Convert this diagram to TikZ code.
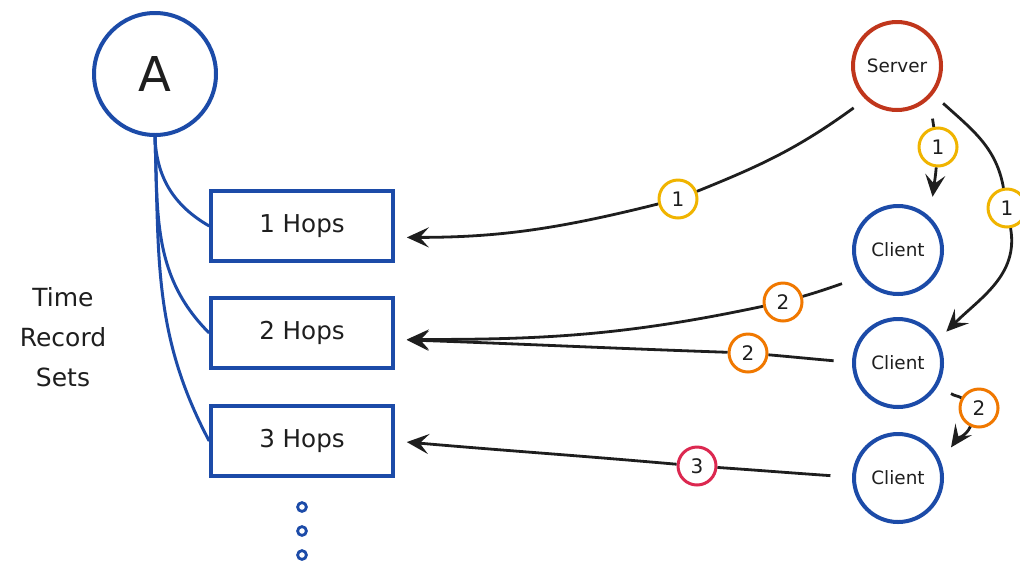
\documentclass[tikz,border=0pt]{standalone}
\usepackage{fontspec}
\setmainfont{DejaVu Sans}
\usetikzlibrary{arrows.meta,calc}
\definecolor{pen}{HTML}{1E1E1E}
\definecolor{bluepen}{HTML}{1C4BA8}
\definecolor{redpen}{HTML}{C0361C}
\definecolor{hopone}{HTML}{F0B400}
\definecolor{hoptwo}{HTML}{F07800}
\definecolor{hopthree}{HTML}{DC2850}

\begin{document}
\begin{tikzpicture}[x=0.5pt,y=0.5pt,
  peer/.style={circle,draw=bluepen,line width=2pt,minimum size=44pt,inner sep=0pt,
    text=pen,font=\fontsize{9.2}{11}\selectfont},
  hopbox/.style={draw=bluepen,line width=1.8pt,minimum width=91pt,minimum height=35pt,
    text=pen,font=\fontsize{12.3}{14}\selectfont},
  tag/.style={circle,draw=#1,fill=white,line width=1.5pt,minimum size=19pt,inner sep=0pt,
    text=pen,font=\fontsize{10}{12}\selectfont},
  flow/.style={pen,line width=1.4pt,-{Stealth[length=11pt,width=10pt,inset=4.5pt]}},
  branch/.style={bluepen,line width=1.5pt}]
\useasboundingbox (0,0) rectangle (1020,-563);

% record side
\node[peer,minimum size=61pt,font=\fontsize{24}{26}\selectfont] (a) at (155,-74) {A};
\node[hopbox] (h1) at (302,-226) {1 Hops};
\node[hopbox] (h2) at (302,-333) {2 Hops};
\node[hopbox] (h3) at (302,-441) {3 Hops};
\node[align=center,text=pen,font=\fontsize{12.5}{20}\selectfont] (sets) at (63,-337) {Time\\Record\\Sets};
\draw[branch] (a.south) to[out=-88,in=150] (h1.west);
\draw[branch] (a.south) to[out=-88,in=135] (h2.west);
\draw[branch] (a.south) to[out=-88,in=118] (h3.west);
\foreach \y in {507,531,555}
  \draw[bluepen,line width=1.4pt] (302,-\y) circle (2.2pt);

% network side
\node[peer,draw=redpen] (srv) at (897,-66) {Server};
\node[peer] (c1) at (898,-250) {Client};
\node[peer] (c2) at (898,-363) {Client};
\node[peer] (c3) at (898,-478) {Client};

\node[tag=hopone] (t1) at (678,-199) {1};
\node[tag=hopone] (t2) at (938,-147) {1};
\node[tag=hopone] (t3) at (1007,-208) {1};
\node[tag=hoptwo] (t4) at (783,-302) {2};
\node[tag=hoptwo] (t5) at (748,-353) {2};
\node[tag=hoptwo] (t6) at (979,-408) {2};
\node[tag=hopthree] (t7) at (697,-466) {3};

% arrows leave a gap before the circles
\draw[flow,shorten >=6pt] ($(srv)!1.31!(srv.224)$) to[out=216,in=22] (t1)
  to[out=194,in=0] (h1.-7);
\draw[flow] ($(srv)!1.38!(srv.-56)$) to[out=-78,in=102] (t2)
  to[out=-95,in=83] ($(c1)!1.38!(c1.57)$);
\draw[flow] ($(srv)!1.29!(srv.-39)$) to[out=-42,in=100] (t3)
  to[out=-80,in=45] ($(c2)!1.25!(c2.33)$);
\draw[flow,shorten >=6pt] ($(c1)!1.42!(c1.211)$) to[out=199,in=16] (t4)
  to[out=192,in=0] (h2.-4);
\draw[flow,shorten >=6pt] ($(c2)!1.4!(c2.178)$) to[out=175,in=-5] (t5)
  to[out=178,in=-2] (h2.-4);
\draw[flow] ($(c2)!1.33!(c2.-30)$) to[out=-35,in=150] (t6)
  to[out=-115,in=55] ($(c3)!1.33!(c3.30)$);
\draw[flow,shorten >=6pt] ($(c3)!1.47!(c3.178)$) to[out=176,in=-4] (t7)
  to[out=175,in=-5] (h3.east);
\end{tikzpicture}
\end{document}
